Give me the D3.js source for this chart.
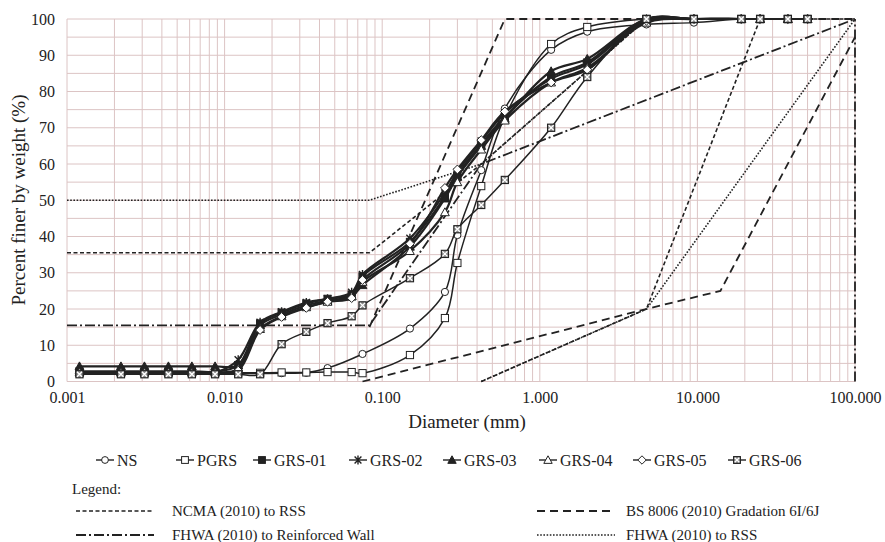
<!DOCTYPE html>
<html>
<head>
<meta charset="utf-8">
<script src="https://cdn.jsdelivr.net/npm/d3@7"></script>
<style>
  body { margin: 0; background: #fff; }
  svg text { font-family: "Liberation Serif", "Times New Roman", Times, "DejaVu Serif", serif; fill: #222; }
</style>
</head>
<body>
<div id="chart"></div>
<script>
var width = 885,
    height = 542;
var serif = '"Liberation Serif", "Times New Roman", Times, "DejaVu Serif", serif';

// hydrometer + sieve diameters (mm)
var hydroD = [0.0012, 0.0022, 0.0031, 0.0044, 0.0062, 0.0087, 0.0122, 0.0168, 0.023, 0.033, 0.045, 0.064];
var sieveD = [0.075, 0.15, 0.25, 0.3, 0.425, 0.6, 1.18, 2.0, 4.75, 9.5, 19, 25, 37.5, 50];
var diameters = hydroD.concat(sieveD);

// percent finer, one value per diameter (null = no reading)
var ns    = [2.2, 2.2, 2.2, 2.2, 2.2, 2.2, 2.2, 2.2, 2.3, 2.4, 3.7, null,
             7.6, 14.6, 24.7, 40.4, 58.3, 75.3, 91.5, 96.5, 98.5, 99, 100, 100, 100, 100];
var pgrs  = [2.4, 2.4, 2.4, 2.4, 2.4, 2.4, 2.4, 2.4, 2.5, 2.5, 2.6, 2.6,
             2.3, 7.3, 17.5, 32.7, 53.9, 73, 93.1, 97.8, 100, 100, 100, 100, 100, 100];
var grs01 = [2.8, 2.8, 2.8, 2.8, 2.8, 2.7, 4.5, 16, 19, 21.5, 22.8, 24,
             29, 38.5, 51, 57, 65.5, 73, 84, 88, 100, 100, 100, 100, 100, 100];
var grs02 = [2.5, 2.5, 2.5, 2.5, 2.5, 2.5, 6, 16.3, 19.2, 21.8, 22.8, 24.6,
             29.5, 39.5, 52, 57.8, 66.3, 74, 83.5, 87.5, 99.5, 100, 100, 100, 100, 100];
var grs03 = [4.2, 4.2, 4.2, 4.2, 4.2, 4.2, 4.5, 15.5, 18.5, 21, 22.3, 23.5,
             26.6, 37.2, 50.5, 56.5, 65, 72.5, 85.6, 89, 100, 100, 100, 100, 100, 100];
var grs04 = [2.5, 2.5, 2.5, 2.5, 2.5, 2.5, 3.5, 14.5, 18, 20.5, 22, 23.5,
             27.5, 36, 46.7, 55, 64, 72, 82.5, 86.5, 99, 100, 100, 100, 100, 100];
var grs05 = [2.3, 2.3, 2.3, 2.3, 2.3, 2.3, 3, 14.2, 17.8, 20.3, 22, 23,
             28, 38, 53.4, 58.5, 66.6, 74.5, 82.5, 86, 99.5, 100, 100, 100, 100, 100];
var grs06 = [2, 2, 2, 2, 2, 2, 2, 2, 10.3, 13.7, 16.1, 18,
             21, 28.5, 35.2, 42, 48.7, 55.6, 70, 84, 100, 100, 100, 100, 100, 100];

var seriesNames = ["NS", "PGRS", "GRS-01", "GRS-02", "GRS-03", "GRS-04", "GRS-05", "GRS-06"];
var seriesValues = [ns, pgrs, grs01, grs02, grs03, grs04, grs05, grs06];
var seriesMarkers = ["circle", "square", "fsquare", "star", "ftri", "otri", "diamond", "xsquare"];

// gradation envelopes [diameter, percent]
var ncmaUpper = [[0.001, 35.5], [0.083, 35.5], [0.425, 60], [4.75, 100], [100, 100]];
var ncmaLower = [[0.425, 0], [4.75, 20], [25, 100]];
var bsUpper   = [[0.083, 15], [0.6, 100], [100, 100]];
var bsLower   = [[0.075, 0], [4.75, 20], [14, 25], [100, 95]];
var fhwaWallUpper = [[0.001, 15.5], [0.083, 15.5], [0.425, 60], [100, 100]];
var fhwaWallLower = [[100, 0], [100, 100]];
var fhwaRssUpper  = [[0.001, 50], [0.083, 50], [0.425, 60], [4.75, 100]];
var fhwaRssLower  = [[0.425, 0], [4.75, 20], [100, 100]];

var xTicks = [0.001, 0.01, 0.1, 1, 10, 100];
var yTicks = [0, 10, 20, 30, 40, 50, 60, 70, 80, 90, 100];

var x = d3.scaleLog().domain([0.001, 100]).range([67, 855]);
var y = d3.scaleLinear().domain([0, 100]).range([381.5, 19]);

var svg = d3.select("#chart").append("svg")
    .attr("width", width)
    .attr("height", height)
    .style("font-family", serif);

// grid
var gridColor = "#dcc4c4";
var vGrid = [];
for (var e = -3; e < 2; e++) {
    for (var k = 1; k < 10; k++) vGrid.push(k * Math.pow(10, e));
}
vGrid.push(100);
svg.append("g").selectAll("line").data(d3.range(0, 101, 5)).enter().append("line")
    .attr("x1", x(0.001)).attr("x2", x(100))
    .attr("y1", function(d) { return y(d); }).attr("y2", function(d) { return y(d); })
    .attr("stroke", gridColor).attr("stroke-width", 1);
svg.append("g").selectAll("line").data(vGrid).enter().append("line")
    .attr("x1", function(d) { return x(d); }).attr("x2", function(d) { return x(d); })
    .attr("y1", y(0)).attr("y2", y(100))
    .attr("stroke", gridColor).attr("stroke-width", 1);

// axes (labels only, Excel style)
var xAxis = d3.axisBottom(x).tickValues(xTicks).tickFormat(d3.format(".3f")).tickSize(0).tickPadding(10);
var yAxis = d3.axisLeft(y).tickValues(yTicks).tickSize(0).tickPadding(12);
var gx = svg.append("g").attr("transform", "translate(0," + y(0) + ")").call(xAxis);
var gy = svg.append("g").attr("transform", "translate(" + x(0.001) + ",0)").call(yAxis);
[gx, gy].forEach(function(g) {
    g.attr("font-family", null).attr("font-size", null);
    g.select(".domain").remove();
    g.selectAll("text").style("font-size", "16px").style("font-family", serif).attr("fill", "#222");
});

svg.append("text")
    .attr("x", 467).attr("y", 428)
    .attr("text-anchor", "middle")
    .style("font-size", "19px")
    .text("Diameter (mm)");
svg.append("text")
    .attr("transform", "translate(25,200) rotate(-90)")
    .attr("text-anchor", "middle")
    .style("font-size", "19px")
    .text("Percent finer by weight (%)");

// envelopes
var styles = {
    ncma: { dash: "4,2.5", w: 1.6 },
    bs: { dash: "8,5", w: 1.8 },
    wall: { dash: "10,3,2,3", w: 1.8 },
    rss: { dash: "1.6,1.6", w: 1.6 }
};
var envLine = d3.line()
    .x(function(d) { return x(d[0]); })
    .y(function(d) { return y(d[1]); });
var envelopes = [
    [ncmaUpper, "ncma"], [ncmaLower, "ncma"],
    [bsUpper, "bs"], [bsLower, "bs"],
    [fhwaWallUpper, "wall"], [fhwaWallLower, "wall"],
    [fhwaRssUpper, "rss"], [fhwaRssLower, "rss"]
];
svg.append("g").selectAll("path").data(envelopes).enter().append("path")
    .attr("d", function(d) { return envLine(d[0]); })
    .attr("fill", "none")
    .attr("stroke", "#222")
    .attr("stroke-width", function(d) { return styles[d[1]].w; })
    .attr("stroke-dasharray", function(d) { return styles[d[1]].dash; });

// markers
function drawMarker(g, type, cx, cy, s) {
    s = s || 3.6;
    var c = "#222";
    if (type == "circle") {
        g.append("circle").attr("cx", cx).attr("cy", cy).attr("r", s)
            .attr("fill", "#fff").attr("stroke", c).attr("stroke-width", 1);
    } else if (type == "square" || type == "fsquare") {
        g.append("rect").attr("x", cx - s).attr("y", cy - s).attr("width", 2 * s).attr("height", 2 * s)
            .attr("fill", type == "square" ? "#fff" : c).attr("stroke", c).attr("stroke-width", 1);
    } else if (type == "star") {
        g.append("path")
            .attr("d", "M" + (cx - s) + "," + (cy - s) + "L" + (cx + s) + "," + (cy + s) +
                "M" + (cx - s) + "," + (cy + s) + "L" + (cx + s) + "," + (cy - s) +
                "M" + cx + "," + (cy - s - 1) + "L" + cx + "," + (cy + s + 1))
            .attr("stroke", c).attr("stroke-width", 1.4);
    } else if (type == "ftri" || type == "otri") {
        var t = s + 0.8;
        g.append("path")
            .attr("d", "M" + cx + "," + (cy - t) + "L" + (cx + t) + "," + (cy + t * 0.8) + "L" + (cx - t) + "," + (cy + t * 0.8) + "Z")
            .attr("fill", type == "ftri" ? c : "#fff").attr("stroke", c).attr("stroke-width", 1);
    } else if (type == "diamond") {
        var t2 = s + 0.8;
        g.append("path")
            .attr("d", "M" + cx + "," + (cy - t2) + "L" + (cx + t2) + "," + cy + "L" + cx + "," + (cy + t2) + "L" + (cx - t2) + "," + cy + "Z")
            .attr("fill", "#fff").attr("stroke", c).attr("stroke-width", 1);
    } else if (type == "xsquare") {
        g.append("rect").attr("x", cx - s).attr("y", cy - s).attr("width", 2 * s).attr("height", 2 * s)
            .attr("fill", "#888").attr("stroke", c).attr("stroke-width", 1.1);
        var u = s - 1.1;
        g.append("path")
            .attr("d", "M" + (cx - u) + "," + (cy - u) + "L" + (cx + u) + "," + (cy + u) +
                "M" + (cx - u) + "," + (cy + u) + "L" + (cx + u) + "," + (cy - u))
            .attr("stroke", "#fff").attr("stroke-width", 1.3);
    }
}

// series
var curve = d3.line()
    .curve(d3.curveCatmullRom.alpha(0.5))
    .x(function(d) { return x(d[0]); })
    .y(function(d) { return y(d[1]); });

seriesValues.forEach(function(vals, i) {
    var pts = [];
    vals.forEach(function(v, j) { if (v != null) pts.push([diameters[j], v]); });
    var g = svg.append("g");
    var thick = (i >= 2 && i <= 6) ? 2.2 : 1.5;
    g.append("path")
        .attr("d", curve(pts))
        .attr("fill", "none")
        .attr("stroke", "#222")
        .attr("stroke-width", thick);
    pts.forEach(function(p) { drawMarker(g, seriesMarkers[i], x(p[0]), y(p[1])); });
});

// series legend
var legX = [105, 185, 262, 358, 452, 548, 642, 737];
var lg = svg.append("g");
seriesNames.forEach(function(name, i) {
    var cx = legX[i], cy = 460;
    lg.append("line").attr("x1", cx - 9).attr("x2", cx + 9).attr("y1", cy).attr("y2", cy)
        .attr("stroke", "#222").attr("stroke-width", 1.4);
    drawMarker(lg, seriesMarkers[i], cx, cy, 3.4);
    lg.append("text").attr("x", cx + 12).attr("y", cy + 5.5)
        .style("font-size", "16px").text(name);
});

// envelope legend
svg.append("text").attr("x", 72).attr("y", 494).style("font-size", "15px").text("Legend:");
var envLegend = [
    ["ncma", "NCMA (2010) to RSS", 76, 172, 511],
    ["bs", "BS 8006 (2010) Gradation 6I/6J", 537, 626, 511],
    ["wall", "FHWA (2010) to Reinforced Wall", 76, 172, 535],
    ["rss", "FHWA (2010) to RSS", 537, 626, 535]
];
envLegend.forEach(function(d) {
    svg.append("line").attr("x1", d[2]).attr("x2", d[2] + 78).attr("y1", d[4]).attr("y2", d[4])
        .attr("stroke", "#222").attr("stroke-width", styles[d[0]].w)
        .attr("stroke-dasharray", styles[d[0]].dash);
    svg.append("text").attr("x", d[3]).attr("y", d[4] + 5)
        .style("font-size", "15px").text(d[1]);
});
</script>
</body>
</html>
